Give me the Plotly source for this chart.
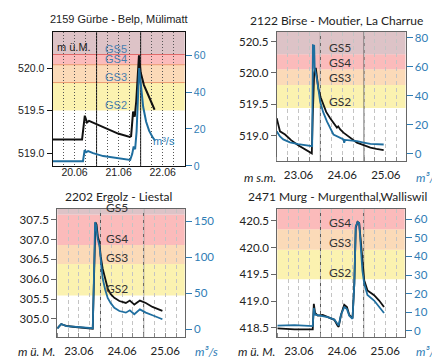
import pandas as pd
import plotly.graph_objects as go

W, H = 440, 359

# ---------------- data ----------------
titles = ["2159 Gürbe - Belp, Mülimatt", "2122 Birse - Moutier, La Charrue",
          "2202 Ergolz - Liestal", "2471 Murg - Murgenthal,Walliswil"]
start_dates = ["2024-06-20", "2024-06-23", "2024-06-23", "2024-06-23"]
date_labels = [["20.06", "21.06", "22.06"], ["23.06", "24.06", "25.06"],
               ["23.06", "24.06", "25.06"], ["23.06", "24.06", "25.06"]]
level_units = ["m ü.M.", "m s.m.", "m ü. M.", "m ü. M."]

# Panel 1 (hours since start, level m, discharge m3/s)
p1_lvl_h = [0, 16.1, 17.6, 18.3, 18.8, 19.9, 22.1, 24.8, 30.3, 35.7, 42.1, 42.8, 43.9, 44.8, 45.6, 46.5, 47.1,
            48.0, 49.8, 51.6, 53.4, 55.6]
p1_lvl = [519.16, 519.16, 519.44, 519.40, 519.36, 519.38, 519.36, 519.33, 519.28, 519.23, 519.19, 519.20,
          519.49, 519.43, 519.61, 519.95, 520.15, 519.95, 519.80, 519.71, 519.61, 519.51]
p1_q_h = [0, 16.6, 17.5, 18.3, 19.4, 22.1, 27.6, 35.7, 42.3, 43.4, 44.2, 45.0, 45.8, 47.2, 48.3, 49.4, 51.0,
          52.6, 54.3, 55.9]
p1_q = [2.5, 2.5, 8.5, 7.4, 8.0, 6.9, 5.3, 4.0, 3.2, 6.4, 10.6, 9.0, 18.6, 53.0, 42.5, 31.9, 23.9, 19.1,
        15.9, 13.6]

# Panel 2
p2_lvl_h = [0, 0.7, 1.8, 4.6, 7.9, 11.8, 15.1, 18.4, 19.3, 19.8, 20.6, 21.5, 22.2, 22.9, 24.2, 25.7, 27.2,
            29.4, 33.1, 33.8, 34.9, 36.7, 40.4, 44.1, 47.8, 51.5, 54.8, 58.8]
p2_lvl = [519.28, 519.18, 519.07, 519.02, 518.93, 518.85, 518.79, 518.74, 518.72, 519.30, 520.00, 520.08,
          519.90, 519.75, 519.61, 519.49, 519.38, 519.28, 519.13, 519.15, 519.10, 519.05, 518.97, 518.89,
          518.85, 518.81, 518.79, 518.77]
p2_q_h = [0, 1.8, 3.6, 7.3, 11.8, 18.4, 19.5, 19.9, 20.6, 20.9, 22.1, 23.9, 25.5, 27.6, 31.2, 36.7, 37.1,
          37.6, 44.1, 47.8, 51.5, 58.8]
p2_q = [15.5, 12.0, 9.9, 7.9, 6.6, 5.4, 5.2, 74.8, 74.5, 59.0, 51.6, 35.8, 28.9, 22.3, 13.3, 9.9, 7.6, 9.6,
        8.8, 7.7, 6.8, 6.4]

# Panel 3
p3_lvl_h = [0, 2.2, 3.1, 5.0, 8.7, 14.2, 19.7, 20.6, 21.2, 21.8, 22.5, 23.4, 24.1, 25.2, 26.6, 28.0, 29.7,
            31.7, 34.5, 38.1, 40.3, 42.8, 45.9, 49.2, 52.9, 55.6, 58.4]
p3_lvl = [304.76, 304.87, 304.85, 304.82, 304.80, 304.78, 304.75, 306.39, 307.43, 307.38, 307.08, 306.93,
          306.58, 306.27, 305.99, 305.77, 305.62, 305.53, 305.45, 305.40, 305.46, 305.36, 305.46, 305.40,
          305.30, 305.26, 305.20]
p3_q_h = [0, 2.2, 5.0, 11.5, 19.7, 20.4, 21.0, 21.5, 22.5, 23.4, 24.1, 25.2, 26.6, 28.0, 29.7, 31.7, 34.5,
          38.1, 40.3, 42.8, 45.9, 49.2, 52.9, 58.4]
p3_q = [1.0, 7.4, 4.4, 3.0, 1.6, 77.0, 149.0, 145.6, 125.0, 116.5, 93.7, 71.0, 55.5, 43.7, 36.4, 30.0, 25.5,
        23.2, 26.5, 21.0, 27.8, 23.2, 19.6, 14.0]

# Panel 4
p4_lvl_h = [0, 9.6, 19.7, 20.3, 21.0, 22.5, 25.2, 28.0, 31.7, 33.5, 34.1, 35.4, 37.2, 38.7, 40.0, 41.8, 42.8,
            43.6, 44.6, 45.5, 46.4, 47.3, 48.3, 50.1, 53.8, 56.6, 59.3]
p4_lvl = [418.49, 418.47, 418.47, 418.95, 418.78, 418.73, 418.74, 418.70, 418.65, 418.54, 418.52, 418.74,
          418.93, 418.89, 418.74, 418.68, 419.33, 420.37, 420.48, 420.46, 420.12, 419.63, 419.39, 419.20,
          419.11, 419.01, 418.89]
p4_q_h = [0, 9.6, 19.7, 20.3, 21.0, 25.2, 28.0, 31.7, 33.5, 34.1, 35.4, 37.2, 38.7, 40.0, 41.8, 42.8, 43.6,
          44.6, 45.5, 46.4, 47.3, 48.3, 50.1, 53.8, 56.6, 59.3]
p4_q = [2.9, 3.1, 2.6, 12.3, 8.7, 7.9, 7.4, 6.1, 3.8, 2.9, 8.7, 12.8, 11.7, 8.2, 6.5, 25.4, 56.1, 58.4, 57.9,
        46.5, 32.4, 25.4, 19.3, 16.3, 13.2, 9.6]

# Danger level thresholds (GS2, GS3, GS4, GS5) per station
thresholds = [[519.50, 519.83, 520.04, 520.16],
              [519.44, 519.81, 520.06, 520.30],
              [305.59, 306.38, 306.86, 307.63],
              [419.41, 419.96, 420.34, None]]
gs_names = ["GS2", "GS3", "GS4", "GS5"]

# axis ranges and ticks
lvl_ranges = [[518.85, 520.43], [518.59, 520.66], [304.53, 307.77], [418.32, 420.72]]
q_ranges = [[0, 72.8], [-5.3, 84.3], [-11.3, 167.3], [-3.5, 65.4]]
lvl_ticks = [[519.0, 519.5, 520.0], [519.0, 519.5, 520.0, 520.5],
             [305.0, 305.5, 306.0, 306.5, 307.0, 307.5], [418.5, 419.0, 419.5, 420.0, 420.5]]
q_ticks = [[0, 20, 40, 60], [0, 20, 40, 60, 80], [0, 50, 100, 150], [0, 10, 20, 30, 40, 50, 60]]

# ---------------- style ----------------
band_cols = ["rgba(250,238,150,0.75)", "rgba(250,205,160,0.75)", "rgba(250,170,170,0.8)",
             "rgba(210,175,180,0.75)"]
BLUE = "#1f6e9f"
TICKBLUE = "#2f7db5"
boxes = [(44.5, 176.7, 23, 160), (268.7, 397.5, 23, 155.5), (49.3, 176.7, 204, 335), (269.3, 396.7, 204, 335)]
fonts = ["Liberation Sans", "Lato", "Lato", "Lato"]
fsize = [10.5, 11.5, 11.5, 11.5]
gs_x = [108, 332, 109, 331.7]
unit_pos = [(66.3, 38.5), (251.7, 171.5), (28.3, 349.5), (248.3, 349.5)]
q_unit_pos = [(156, 135), (419.3, 171.5), (198.3, 349.5), (419, 349.5)]
title_pos = [(110.5, 10), (328.8, 11.5), (110.5, 191.5), (329.3, 191.5)]

lvl_series = [(p1_lvl_h, p1_lvl), (p2_lvl_h, p2_lvl), (p3_lvl_h, p3_lvl), (p4_lvl_h, p4_lvl)]
q_series = [(p1_q_h, p1_q), (p2_q_h, p2_q), (p3_q_h, p3_q), (p4_q_h, p4_q)]


def to_time(start, hours):
    return [(pd.Timestamp(start) + pd.Timedelta(minutes=round(h * 60))).strftime("%Y-%m-%d %H:%M")
            for h in hours]


def ts(t):
    return t.strftime("%Y-%m-%d %H:%M")


fig = go.Figure()
layout = dict(width=W, height=H, autosize=False, margin=dict(l=0, r=0, t=0, b=0),
              paper_bgcolor="white", plot_bgcolor="white", showlegend=False)
shapes = []
annotations = []

for i in range(4):
    l, r, t, b = boxes[i]
    xa = "xaxis" if i == 0 else f"xaxis{i + 1}"
    xid = "x" if i == 0 else f"x{i + 1}"
    ly = 2 * i + 1
    ry = 2 * i + 2
    lya = "yaxis" if ly == 1 else f"yaxis{ly}"
    lyid = "y" if ly == 1 else f"y{ly}"
    rya = f"yaxis{ry}"
    ryid = f"y{ry}"
    start = pd.Timestamp(start_dates[i])
    p1 = (i == 0)
    frame_col = "#111" if p1 else "#666"
    grid_col = "#555" if p1 else "#c4c4c4"
    gdash = "1px,2px" if p1 else "4px,3px"
    font = fonts[i]
    fs = fsize[i]
    end = start + pd.Timedelta(minutes=72 * 60 if p1 else 70 * 60 + 48)
    noon = [ts(start + pd.Timedelta(hours=12 + 24 * k)) for k in range(3)]

    layout[xa] = dict(
        domain=[l / W, r / W], anchor=lyid, type="date",
        range=[ts(start), ts(end)],
        tickvals=noon, ticktext=date_labels[i],
        ticks="", ticklabelstandoff=-3 if p1 else 3,
        showgrid=True, gridcolor=grid_col, griddash=gdash, gridwidth=1,
        minor=dict(dtick=6 * 3600 * 1000, tick0=ts(start), showgrid=True, gridcolor=grid_col,
                   griddash=gdash, gridwidth=1,
                   ticks="" if p1 else "inside", ticklen=4, tickcolor="#888"),
        showline=True, linecolor=frame_col, linewidth=1, mirror=True,
        tickfont=dict(family=font, size=fs, color="#222"), zeroline=False,
    )
    layout[lya] = dict(
        domain=[1 - b / H, 1 - t / H], anchor=xid, range=lvl_ranges[i],
        tickvals=lvl_ticks[i], tickformat=".1f",
        ticks="outside", ticklen=5, tickcolor=frame_col,
        showgrid=False, zeroline=False,
        showline=True, linecolor=frame_col, linewidth=1, mirror=True,
        tickfont=dict(family=font, size=fs, color="#222"),
    )
    layout[rya] = dict(
        overlaying=lyid, anchor=xid, side="right", range=q_ranges[i],
        tickvals=q_ticks[i], ticks="outside", ticklen=6, tickcolor=TICKBLUE,
        showgrid=False, zeroline=False, showline=False,
        tickfont=dict(family=font, size=fs, color=TICKBLUE),
    )

    # danger bands
    th = thresholds[i]
    for k in range(4):
        lo = th[k]
        if lo is None:
            continue
        hi = None
        for kk in range(k + 1, 4):
            if th[kk] is not None:
                hi = th[kk]
                break
        if hi is None:
            hi = lvl_ranges[i][1]
        shapes.append(dict(type="rect", xref="paper", yref=lyid, x0=l / W, x1=r / W, y0=lo, y1=hi,
                           fillcolor=band_cols[k], line=dict(width=0), layer="below"))
        if p1 and k >= 1:
            shapes.append(dict(type="line", xref="paper", yref=lyid, x0=l / W, x1=r / W, y0=lo, y1=lo,
                               line=dict(color="#eb9a70" if k < 3 else "#e06a6a", width=1), layer="below"))
        annotations.append(dict(
            x=gs_x[i] / W, y=lo, xref="paper", yref=lyid, xanchor="center", yanchor="bottom",
            yshift=-2.5, text=gs_names[k], showarrow=False,
            font=dict(family=font, size=11 if p1 else 12, color="#4a7fae" if p1 else "#333")))

    # midnight solid lines
    for k in range(1, 3):
        mid = ts(start + pd.Timedelta(hours=24 * k))
        shapes.append(dict(type="line", xref=xid, yref="paper", x0=mid, x1=mid, y0=1 - b / H, y1=1 - t / H,
                           line=dict(color="#111" if p1 else "#555", width=1), layer="below"))

    lh, lv = lvl_series[i]
    qh, qv = q_series[i]
    fig.add_trace(go.Scatter(x=to_time(start, lh), y=lv, xaxis=xid, yaxis=lyid, mode="lines",
                             line=dict(color="#111", width=2 if p1 else 1.8), hoverinfo="skip"))
    fig.add_trace(go.Scatter(x=to_time(start, qh), y=qv, xaxis=xid, yaxis=ryid, mode="lines",
                             line=dict(color=BLUE, width=2 if p1 else 1.8), hoverinfo="skip"))

    tx, ty = title_pos[i]
    annotations.append(dict(x=tx / W, y=1 - ty / H, xref="paper", yref="paper", text=titles[i],
                            showarrow=False, font=dict(family=font, size=11 if p1 else 12, color="#222"),
                            xanchor="center", yanchor="middle"))
    ux, uy = unit_pos[i]
    qx, qy = q_unit_pos[i]
    if p1:
        annotations.append(dict(x=ux / W, y=1 - uy / H, xref="paper", yref="paper", text=level_units[i],
                                xanchor="center", yanchor="middle",
                                showarrow=False, font=dict(family=font, size=11, color="#222")))
        annotations.append(dict(x=qx / W, y=1 - qy / H, xref="paper", yref="paper", text="m³/s",
                                xanchor="center", yanchor="middle",
                                showarrow=False, font=dict(family=font, size=11, color=TICKBLUE)))
    else:
        annotations.append(dict(x=ux / W, y=1 - uy / H, xref="paper", yref="paper",
                                text=f"<i>{level_units[i]}</i>", showarrow=False,
                                xanchor="center", yanchor="middle",
                                font=dict(family=font, size=12, color="#222")))
        annotations.append(dict(x=qx / W, y=1 - qy / H, xref="paper", yref="paper", text="<i>m³/s</i>",
                                xanchor="center", yanchor="middle", showarrow=False,
                                font=dict(family=font, size=12, color=TICKBLUE)))

layout["shapes"] = shapes
layout["annotations"] = annotations
fig.update_layout(**layout)
fig.write_html("out.html")
